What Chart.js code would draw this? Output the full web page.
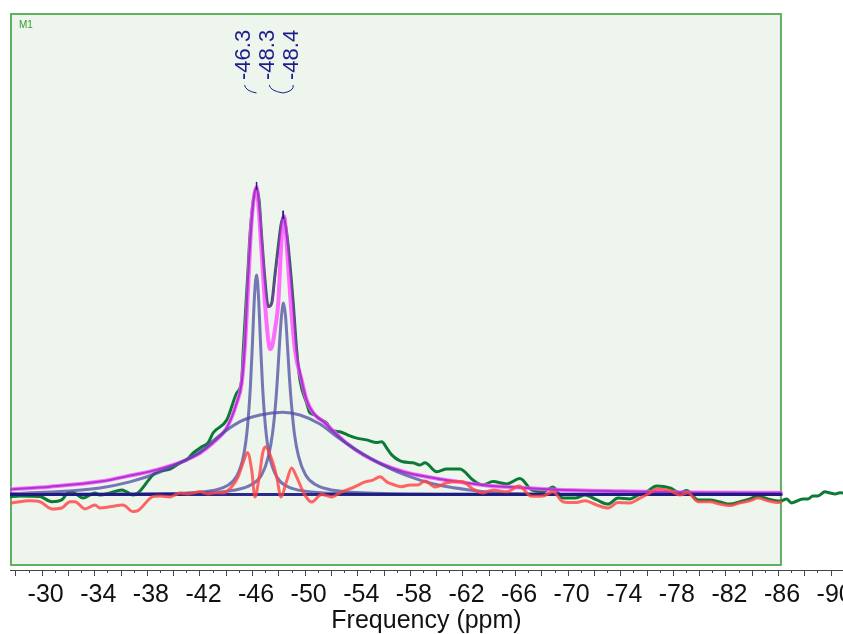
<!DOCTYPE html>
<html>
<head>
<meta charset="utf-8">
<script src="https://cdn.jsdelivr.net/npm/chart.js@4.4.0/dist/chart.umd.min.js"></script>
<style>
  html, body { margin: 0; padding: 0; background: #fff; }
  #wrap { width: 843px; height: 634px; }
</style>
</head>
<body>
<div id="wrap"><canvas id="myChart" width="843" height="634"></canvas></div>
<script>
'use strict';

// experimental spectrum (ppm / intensity)
var expPpm = [-27.59, -27.72, -28.35, -29.87, -30.76, -31.52, -32.00, -32.38, -33.14, -34.05, -34.43, -35.19,
    -36.08, -36.46, -36.94, -37.32, -38.46, -38.84, -39.76, -40.65, -41.03, -41.51, -42.17, -42.65, -43.03,
    -44.07, -44.83, -45.21, -45.33, -45.69, -45.84, -46.07, -46.34, -46.53, -46.73, -46.98, -47.23, -47.49,
    -47.74, -47.99, -48.20, -48.37, -48.58, -48.75, -49.13, -49.39, -49.64, -50.15, -50.40, -50.78, -51.01,
    -51.67, -52.05, -52.69, -53.29, -53.95, -54.72, -55.48, -55.86, -56.24, -56.62, -57.48, -58.24, -58.77,
    -59.15, -60.04, -60.80, -61.81, -62.80, -63.56, -64.32, -65.36, -66.37, -67.26, -68.12, -68.88, -69.64,
    -70.56, -71.32, -72.21, -73.07, -73.83, -74.74, -75.35, -76.01, -76.77, -77.78, -78.54, -79.05, -79.91,
    -80.82, -81.58, -82.34, -83.10, -83.86, -84.47, -85.23, -86.15, -86.65, -87.03, -87.89, -88.27, -88.65,
    -89.03, -89.57, -89.95, -90.33, -90.71, -90.94];
var expInt = [-0.8, -0.7, -0.5, -0.7, -2.4, -1.8, 0.5, 0.6, -1.2, 0.5, -0.2, 0.5,
    1.5, 0.9, -0.2, 0.5, 6.5, 7.6, 8.5, 10.9, 11.5, 13.8, 15.9, 17.2, 20.5,
    24.8, 33.8, 38.2, 48.2, 74.8, 86.5, 97.2, 102.2, 98.2, 85.9, 71.5, 62.6, 63.8,
    73.2, 82.6, 89.8, 92.6, 88.8, 82.6, 63.8, 48.2, 38.2, 30.5, 27.2, 26.5, 25.5,
    23.8, 21.5, 20.9, 19.8, 18.8, 18.2, 17.3, 17.6, 15.5, 13.2, 10.9, 10.6, 9.8,
    10.6, 7.6, 8.5, 8.5, 4.8, 3.2, 4.3, 3.5, 5.3, 1.5, 0.9, 2.5, -1.2,
    -1.2, -0.2, -1.8, -3.2, -1.2, -1.5, -0.2, 0.9, 2.8, 2.2, 0.6, 1.3, -1.8,
    -1.8, -2.5, -3.2, -2.4, -1.5, -0.5, -1.5, -2.2, -1.5, -2.8, -1.5, -1.5, -0.5,
    -0.5, 0.9, 0.5, 0.2, 0.6, 0.5];

// residual
var resPpm = [-27.72, -29.11, -29.87, -30.76, -31.52, -32.15, -32.53, -33.29, -34.05, -34.43, -35.19, -36.18,
    -36.94, -37.32, -38.46, -39.00, -39.76, -40.52, -41.13, -42.04, -42.65, -43.18, -43.79, -44.45, -44.93,
    -45.31, -45.65, -45.97, -46.22, -46.53, -46.83, -47.02, -47.49, -47.87, -48.20, -48.63, -49.01, -49.39,
    -50.02, -50.53, -51.29, -52.05, -52.81, -53.67, -54.59, -55.19, -55.73, -56.24, -56.62, -57.38, -58.01,
    -58.62, -59.15, -59.91, -60.80, -61.94, -62.80, -63.56, -64.32, -65.36, -66.30, -67.26, -68.12, -68.88,
    -69.64, -70.56, -71.32, -72.21, -73.07, -73.83, -74.74, -75.50, -76.26, -76.77, -77.78, -78.54, -79.15,
    -79.91, -80.82, -81.58, -82.34, -83.10, -83.86, -84.47, -85.23, -85.99, -86.22];
var resInt = [-2.8, -2.1, -2.4, -4.8, -4.5, -2.4, -2.4, -4.8, -3.5, -4.5, -4.1, -3.5,
    -5.7, -5.4, -0.7, -0.5, -0.8, 0.5, 0.2, 0.9, 0.2, 0.6, 0.5, 2.6, 5.8,
    10.5, 14.0, 8.2, -0.8, 5.5, 14.3, 15.8, 11.8, 5.9, -0.8, 4.5, 8.8, 5.8,
    -0.2, -2.5, 0.0, -0.8, 0.9, 2.3, 4.2, 4.8, 5.9, 4.2, 3.5, 2.6, 3.2,
    3.2, 4.5, 2.5, 3.9, 4.3, 1.8, 0.5, 1.5, 0.9, 2.8, -0.6, -0.5, 0.9,
    -2.4, -2.7, -2.1, -3.5, -4.5, -2.7, -2.8, -1.2, 0.5, 1.8, 1.3, -0.2, 0.6,
    -2.4, -2.4, -3.2, -3.7, -2.8, -2.1, -1.2, -2.1, -2.7, -2.5];

// total fit (pink)
var fitPpm = [-27.59, -30.63, -34.43, -36.94, -38.74, -40.65, -42.04, -43.03, -44.07, -44.83, -45.21, -45.46,
    -45.69, -45.92, -46.11, -46.34, -46.47, -46.73, -46.98, -47.23, -47.36, -47.51, -47.74, -47.99, -48.25,
    -48.43, -48.68, -48.94, -49.26, -49.77, -50.15, -50.65, -51.41, -52.05, -53.19, -54.46, -55.73, -57.50,
    -59.28, -61.56, -63.84, -66.37, -68.88, -73.98, -79.05, -84.09, -86.22];
var fitInt = [1.7, 2.6, 4.3, 6.5, 8.2, 10.9, 13.8, 17.2, 22.2, 30.5, 37.2, 49.8,
    68.2, 88.2, 98.2, 102.5, 97.2, 80.5, 63.8, 51.5, 48.5, 49.2, 55.0, 63.8, 85.9,
    92.8, 80.5, 63.8, 48.2, 38.2, 31.5, 27.2, 24.3, 21.7, 17.1, 13.2, 10.4, 7.6,
    5.9, 4.3, 3.0, 2.3, 1.7, 1.1, 0.7, 0.6, 0.6];

// synthetic sum (purple)
var sumPpm = [-27.59, -30.63, -34.43, -36.94, -38.74, -40.65, -42.04, -43.03, -44.07, -44.83, -45.21, -45.46,
    -45.69, -45.92, -46.11, -46.34, -46.53, -46.75, -46.98, -47.23, -47.49, -47.74, -47.99, -48.20, -48.40,
    -48.58, -48.75, -49.13, -49.39, -49.77, -50.15, -50.65, -51.41, -52.05, -53.19, -54.46, -55.73, -57.50,
    -59.28, -61.56, -63.84, -66.37, -68.88, -73.98, -79.05, -84.09, -86.22];
var sumInt = [1.7, 2.6, 4.3, 6.5, 8.2, 10.9, 13.8, 17.2, 22.2, 30.5, 37.2, 50.0,
    72.0, 88.0, 98.0, 102.5, 97.0, 84.0, 71.0, 62.5, 63.5, 72.5, 82.0, 89.5, 92.8,
    88.5, 82.0, 63.0, 47.5, 38.2, 31.5, 27.2, 24.3, 21.7, 17.1, 13.2, 10.4, 7.6,
    5.9, 4.3, 3.0, 2.3, 1.7, 1.1, 0.7, 0.6, 0.6];

// component peaks
var pk1Ppm = [-27.59, -31.13, -38.73, -42.53, -44.05, -44.81, -45.35, -45.65, -45.88, -46.03, -46.18, -46.34,
    -46.49, -46.64, -46.79, -47.02, -47.32, -47.86, -48.62, -50.14, -53.94, -61.54, -86.22];
var pk1Int = [0, 0.07, 0.26, 1.04, 2.8, 6.0, 12.9, 22.5, 36.6, 50.7, 65.9, 73.2,
    65.9, 50.7, 36.6, 22.5, 12.9, 6.0, 2.8, 1.04, 0.26, 0.07, 0];
var pk2Ppm = [-27.59, -33.18, -40.78, -44.59, -45.96, -46.73, -47.25, -47.55, -47.78, -47.93, -48.08, -48.24,
    -48.39, -48.54, -48.69, -48.84, -49.00, -49.22, -49.53, -50.06, -50.82, -52.19, -56.03, -63.60, -86.22];
var pk2Int = [0, 0.09, 0.36, 1.4, 3.3, 6.6, 12.8, 20.2, 29.8, 38.9, 49.7, 59.6,
    63.8, 59.6, 49.7, 38.9, 29.8, 20.2, 12.8, 6.6, 3.3, 1.4, 0.36, 0.09, 0];
var broadPpm = [-27.59, -30.63, -34.43, -36.71, -39.00, -40.52, -42.04, -43.56, -45.08, -46.60, -48.35, -49.64,
    -51.16, -52.43, -53.95, -55.48, -57.00, -58.77, -60.54, -62.57, -65.10, -69.41, -86.22];
var broadInt = [0.3, 0.8, 2.2, 4.2, 7.5, 10.5, 14.3, 19.8, 24.3, 26.5, 27.4, 26.5,
    23.5, 19.3, 14.8, 10.9, 7.6, 4.8, 2.8, 1.5, 0.4, 0.1, 0];
var basePpm = [-27.59, -86.22];
var baseInt = [0, 0];

var tickLabels = [-30, -34, -38, -42, -46, -50, -54, -58, -62, -66, -70, -74, -78, -82, -86, -90];
var peakNames = ['-46.3', '-48.3', '-48.4'];
var peakPpm = [-46.34, -48.37, -48.37];
var peakInt = [102.2, 92.6, 92.6];

var xMin = -90.94, xMax = -27.59, boxEnd = -86.22;
var yMin = -25.17, yMax = 160.5;
var labelShift = [-13, -15, 9];
var FONT = 'Liberation Sans';

function pts(xs, ys) {
    return xs.map(function(x, i) { return {x: x, y: ys[i]}; });
}

// plot frame with background + minor tick marks
var framePlugin = {
    id: 'frame',
    beforeDatasetsDraw: function(chart) {
        var c = chart.ctx, a = chart.chartArea, xs = chart.scales.x;
        var right = xs.getPixelForValue(boxEnd);
        c.save();
        c.fillStyle = '#edf5ec';
        c.fillRect(a.left + 1, a.top + 1, right - a.left - 1, a.bottom - a.top - 6);
        c.strokeStyle = '#5fb05f';
        c.lineWidth = 2;
        c.strokeRect(a.left + 1, a.top + 1, right - a.left - 1, a.bottom - a.top - 6);
        c.fillStyle = '#2f9f2f';
        c.font = '10px ' + FONT;
        c.fillText('M1', a.left + 9, a.top + 15);
        c.restore();
    },
    afterDraw: function(chart) {
        var c = chart.ctx, a = chart.chartArea, xs = chart.scales.x;
        c.save();
        c.strokeStyle = '#444';
        c.lineWidth = 1;
        c.beginPath();
        for (var v = Math.floor(xMax); v >= Math.ceil(xMin); v--) {
            var px = Math.round(xs.getPixelForValue(v)) + 0.5;
            var len = (v % 2 === 0) ? 6 : 3;
            c.moveTo(px, a.bottom);
            c.lineTo(px, a.bottom + len);
        }
        c.stroke();
        c.restore();
    }
};

// peak labels with leader lines
var peakPlugin = {
    id: 'peaks',
    afterDatasetsDraw: function(chart) {
        var c = chart.ctx, xs = chart.scales.x, ys = chart.scales.y;
        c.save();
        c.strokeStyle = '#1d1d8c';
        c.fillStyle = '#1d1d8c';
        c.lineWidth = 1;
        c.font = '22px ' + FONT;
        peakNames.forEach(function(name, i) {
            var px = xs.getPixelForValue(peakPpm[i]);
            var lx = px + labelShift[i];
            c.save();
            c.translate(lx, 80);
            c.rotate(-Math.PI / 2);
            c.textAlign = 'left';
            c.textBaseline = 'middle';
            c.fillText(name, 0, 0);
            c.restore();
            c.beginPath();
            c.moveTo(lx + 1, 85);
            c.quadraticCurveTo(lx + 2, 91, px, 93);
            c.stroke();
            // tick on the peak top
            var py = ys.getPixelForValue(peakInt[i]);
            c.lineWidth = 1.5;
            c.beginPath();
            c.moveTo(px, py - 6);
            c.lineTo(px, py + 2);
            c.stroke();
            c.lineWidth = 1;
        });
        c.restore();
    }
};

function line(data, color, width) {
    return { data: data, borderColor: color, borderWidth: width, pointRadius: 0, fill: false };
}

var ctx = document.getElementById('myChart');
var myChart = new Chart(ctx, {
    type: 'line',
    data: {
        datasets: [
            line(pts(resPpm, resInt), 'rgba(255,70,70,0.82)', 3),
            line(pts(basePpm, baseInt), 'rgba(25,25,125,0.92)', 3),
            line(pts(broadPpm, broadInt), 'rgba(70,70,160,0.72)', 3),
            line(pts(pk2Ppm, pk2Int), 'rgba(70,70,160,0.72)', 3),
            line(pts(pk1Ppm, pk1Int), 'rgba(70,70,160,0.72)', 3),
            line(pts(sumPpm, sumInt), 'rgba(150,40,200,0.8)', 2),
            line(pts(fitPpm, fitInt), 'rgba(255,85,255,0.85)', 4),
            line(pts(expPpm, expInt), '#0b7a34', 3)
        ]
    },
    options: {
        responsive: false,
        animation: false,
        layout: { autoPadding: false, padding: { left: 10, top: 13, right: 0, bottom: 0 } },
        plugins: { legend: { display: false }, tooltip: { enabled: false } },
        elements: {
            line: { cubicInterpolationMode: 'monotone', borderJoinStyle: 'round', borderCapStyle: 'round' }
        },
        scales: {
            x: {
                type: 'linear',
                reverse: true,
                min: xMin,
                max: xMax,
                afterBuildTicks: function(axis) {
                    axis.ticks = tickLabels.map(function(v) { return {value: v}; });
                },
                afterFit: function(axis) {
                    axis.height = 64;
                    axis.paddingLeft = 0;
                    axis.paddingRight = 0;
                },
                grid: { display: false, drawTicks: false },
                border: { display: true, color: '#444', width: 1 },
                ticks: {
                    autoSkip: false, maxRotation: 0, padding: 10, labelOffset: 4, color: '#111',
                    font: { family: FONT, size: 25 }
                },
                title: {
                    display: true, text: 'Frequency (ppm)', color: '#111',
                    font: { family: FONT, size: 25, lineHeight: 1.0 },
                    padding: { top: 0, bottom: 0 }
                }
            },
            y: { display: false, min: yMin, max: yMax }
        }
    },
    plugins: [framePlugin, peakPlugin]
});
</script>
</body>
</html>
